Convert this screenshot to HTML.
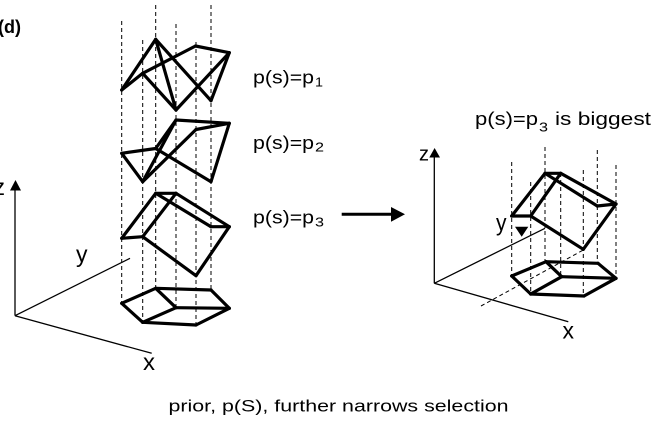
<!DOCTYPE html>
<html>
<head>
<meta charset="utf-8">
<style>
  html, body { margin: 0; padding: 0; background: #fff; }
  body { width: 658px; height: 424px; overflow: hidden; }
  svg { display: block; }
  text { font-family: "Liberation Sans", "DejaVu Sans", sans-serif; fill: #000; }
</style>
</head>
<body>
<svg width="658" height="424" viewBox="0 0 658 424" xmlns="http://www.w3.org/2000/svg">
  <rect width="658" height="424" fill="#fff"/>

  <!-- (d) label -->
  <text x="-2" y="33" font-size="18" font-weight="bold" textLength="23" lengthAdjust="spacingAndGlyphs">(d)</text>

  <!-- LEFT dashed verticals -->
  <g stroke="#000" stroke-width="1" stroke-dasharray="4,3" fill="none">
    <line x1="121.7" y1="21" x2="121.7" y2="303"/>
    <line x1="142.7" y1="40" x2="142.7" y2="322"/>
    <line x1="155.7" y1="5" x2="155.7" y2="288"/>
    <line x1="176" y1="24" x2="176" y2="308"/>
    <line x1="196" y1="42" x2="196" y2="325"/>
    <line x1="211" y1="5" x2="211" y2="290"/>
  </g>

  <!-- LEFT axes -->
  <g stroke="#000" stroke-width="1.3" fill="none">
    <line x1="15" y1="315.7" x2="15" y2="188"/>
    <line x1="15" y1="315.7" x2="130" y2="258.3"/>
    <line x1="15" y1="315.7" x2="151.7" y2="353.3"/>
  </g>
  <polygon points="10,190.5 21,190.5 15.5,180" fill="#000"/>
  <text x="-6.5" y="195" font-size="23" textLength="11.5" lengthAdjust="spacingAndGlyphs">z</text>
  <text x="76" y="262" font-size="23" textLength="11.5" lengthAdjust="spacingAndGlyphs">y</text>
  <text x="143" y="370" font-size="23" textLength="12" lengthAdjust="spacingAndGlyphs">x</text>

  <!-- LEFT shapes -->
  <g stroke="#000" stroke-width="3.2" fill="none" stroke-linejoin="round" stroke-linecap="round">
    <!-- p1 shape -->
    <line x1="121.7" y1="90" x2="155.7" y2="39.3"/>
    <line x1="155.7" y1="39.3" x2="176" y2="110"/>
    <line x1="155.7" y1="39.3" x2="211" y2="100.7"/>
    <line x1="121.7" y1="90" x2="142.7" y2="73.3"/>
    <line x1="142.7" y1="73.3" x2="195.5" y2="46"/>
    <line x1="195.5" y1="46" x2="229.3" y2="52.7"/>
    <line x1="229.3" y1="52.7" x2="211" y2="100.7"/>
    <line x1="229.3" y1="52.7" x2="176" y2="110"/>
    <line x1="142.7" y1="73.3" x2="176" y2="110"/>

    <!-- p2 shape -->
    <line x1="121.7" y1="153.3" x2="155.7" y2="148.5"/>
    <line x1="121.7" y1="153.3" x2="142.7" y2="181.7"/>
    <line x1="142.7" y1="181.7" x2="176" y2="120"/>
    <line x1="155.7" y1="148.5" x2="176" y2="120"/>
    <line x1="155.7" y1="148.5" x2="211" y2="181.7"/>
    <line x1="176" y1="120" x2="229.3" y2="123.3"/>
    <line x1="229.3" y1="123.3" x2="211" y2="181.7"/>
    <line x1="196" y1="129.5" x2="229.3" y2="123.3"/>
    <line x1="196" y1="129.5" x2="142.7" y2="181.7"/>

    <!-- p3 prism -->
    <line x1="155.7" y1="193.3" x2="176" y2="193.3"/>
    <line x1="155.7" y1="193.3" x2="121.7" y2="238.3"/>
    <line x1="121.7" y1="238.3" x2="142.7" y2="236.7"/>
    <line x1="142.7" y1="236.7" x2="176" y2="193.3"/>
    <line x1="155.7" y1="193.3" x2="211" y2="226.7"/>
    <line x1="176" y1="193.3" x2="229.3" y2="226.7"/>
    <line x1="211" y1="226.7" x2="229.3" y2="226.7"/>
    <line x1="229.3" y1="226.7" x2="196" y2="275.7"/>
    <line x1="142.7" y1="236.7" x2="196" y2="275.7"/>

    <!-- bottom pentagon left -->
    <line x1="121.7" y1="303.3" x2="155.7" y2="288.3"/>
    <line x1="155.7" y1="288.3" x2="211" y2="290"/>
    <line x1="211" y1="290" x2="229.3" y2="308.3"/>
    <line x1="229.3" y1="308.3" x2="196" y2="325"/>
    <line x1="196" y1="325" x2="142.7" y2="322.3"/>
    <line x1="142.7" y1="322.3" x2="121.7" y2="303.3"/>
    <line x1="155.7" y1="288.3" x2="176" y2="307.7"/>
    <line x1="176" y1="307.7" x2="229.3" y2="308.3"/>
    <line x1="176" y1="307.7" x2="142.7" y2="322.3"/>
  </g>

  <!-- LEFT labels -->
  <text x="253" y="83.5" font-size="18" textLength="61" lengthAdjust="spacingAndGlyphs">p(s)=p</text>
  <text x="315" y="86.5" font-size="13" textLength="8" lengthAdjust="spacingAndGlyphs">1</text>
  <text x="253" y="149" font-size="18" textLength="61" lengthAdjust="spacingAndGlyphs">p(s)=p</text>
  <text x="315" y="151.5" font-size="13" textLength="9" lengthAdjust="spacingAndGlyphs">2</text>
  <text x="253" y="223.5" font-size="18" textLength="61" lengthAdjust="spacingAndGlyphs">p(s)=p</text>
  <text x="315" y="226.7" font-size="13" textLength="9" lengthAdjust="spacingAndGlyphs">3</text>

  <!-- Arrow -->
  <line x1="341.7" y1="214.3" x2="393" y2="214.3" stroke="#000" stroke-width="3"/>
  <polygon points="391,207 405,214.3 391,221.7" fill="#000"/>

  <!-- RIGHT label -->
  <text x="475" y="125" font-size="18" textLength="63" lengthAdjust="spacingAndGlyphs">p(s)=p</text>
  <text x="539" y="131.5" font-size="13" textLength="9" lengthAdjust="spacingAndGlyphs">3</text>
  <text x="555" y="125" font-size="18" textLength="96" lengthAdjust="spacingAndGlyphs">is biggest</text>

  <!-- RIGHT dashed verticals -->
  <g stroke="#000" stroke-width="1" stroke-dasharray="4,3" fill="none">
    <line x1="511.7" y1="162" x2="511.7" y2="276"/>
    <line x1="530.7" y1="182" x2="530.7" y2="294"/>
    <line x1="545" y1="147" x2="545" y2="261.7"/>
    <line x1="560.7" y1="173" x2="560.7" y2="277"/>
    <line x1="583.3" y1="170" x2="583.3" y2="296"/>
    <line x1="597.3" y1="150" x2="597.3" y2="263"/>
    <line x1="616" y1="165" x2="616" y2="278"/>
    <line x1="481" y1="306" x2="583.3" y2="250"/>
  </g>

  <!-- RIGHT axes -->
  <g stroke="#000" stroke-width="1.3" fill="none">
    <line x1="434.3" y1="283.3" x2="434.3" y2="156"/>
    <line x1="434.3" y1="283.3" x2="545" y2="228.3"/>
    <line x1="434.3" y1="283.3" x2="568.3" y2="321.7"/>
  </g>
  <polygon points="429.3,157.5 440,157.5 434.6,148" fill="#000"/>
  <polygon points="515,226.7 528.3,226.7 521.7,236.7" fill="#000"/>
  <text x="419" y="160.5" font-size="20" textLength="10" lengthAdjust="spacingAndGlyphs">z</text>
  <text x="496" y="230.5" font-size="23" textLength="10.5" lengthAdjust="spacingAndGlyphs">y</text>
  <text x="562.5" y="338.3" font-size="23" textLength="11.5" lengthAdjust="spacingAndGlyphs">x</text>

  <!-- RIGHT shapes -->
  <g stroke="#000" stroke-width="3.2" fill="none" stroke-linejoin="round" stroke-linecap="round">
    <!-- prism -->
    <line x1="545" y1="173.3" x2="560.7" y2="173.3"/>
    <line x1="545" y1="173.3" x2="511.7" y2="216"/>
    <line x1="511.7" y1="216" x2="530.7" y2="216"/>
    <line x1="530.7" y1="216" x2="560.7" y2="173.3"/>
    <line x1="545" y1="173.3" x2="597.3" y2="206"/>
    <line x1="560.7" y1="173.3" x2="616" y2="204"/>
    <line x1="597.3" y1="206" x2="616" y2="204"/>
    <line x1="616" y1="204" x2="583.3" y2="249.3"/>
    <line x1="530.7" y1="216" x2="583.3" y2="249.3"/>

    <!-- pentagon -->
    <line x1="511.7" y1="276" x2="546" y2="261.7"/>
    <line x1="546" y1="261.7" x2="598" y2="263.3"/>
    <line x1="598" y1="263.3" x2="616" y2="278.3"/>
    <line x1="616" y1="278.3" x2="584" y2="296"/>
    <line x1="584" y1="296" x2="530.7" y2="294"/>
    <line x1="530.7" y1="294" x2="511.7" y2="276"/>
    <line x1="546" y1="261.7" x2="561.7" y2="276.7"/>
    <line x1="561.7" y1="276.7" x2="616" y2="278.3"/>
    <line x1="561.7" y1="276.7" x2="530.7" y2="294"/>
  </g>

  <!-- Caption -->
  <text x="168.5" y="411.5" font-size="17" textLength="340" lengthAdjust="spacingAndGlyphs">prior, p(S), further narrows selection</text>
</svg>
</body>
</html>
